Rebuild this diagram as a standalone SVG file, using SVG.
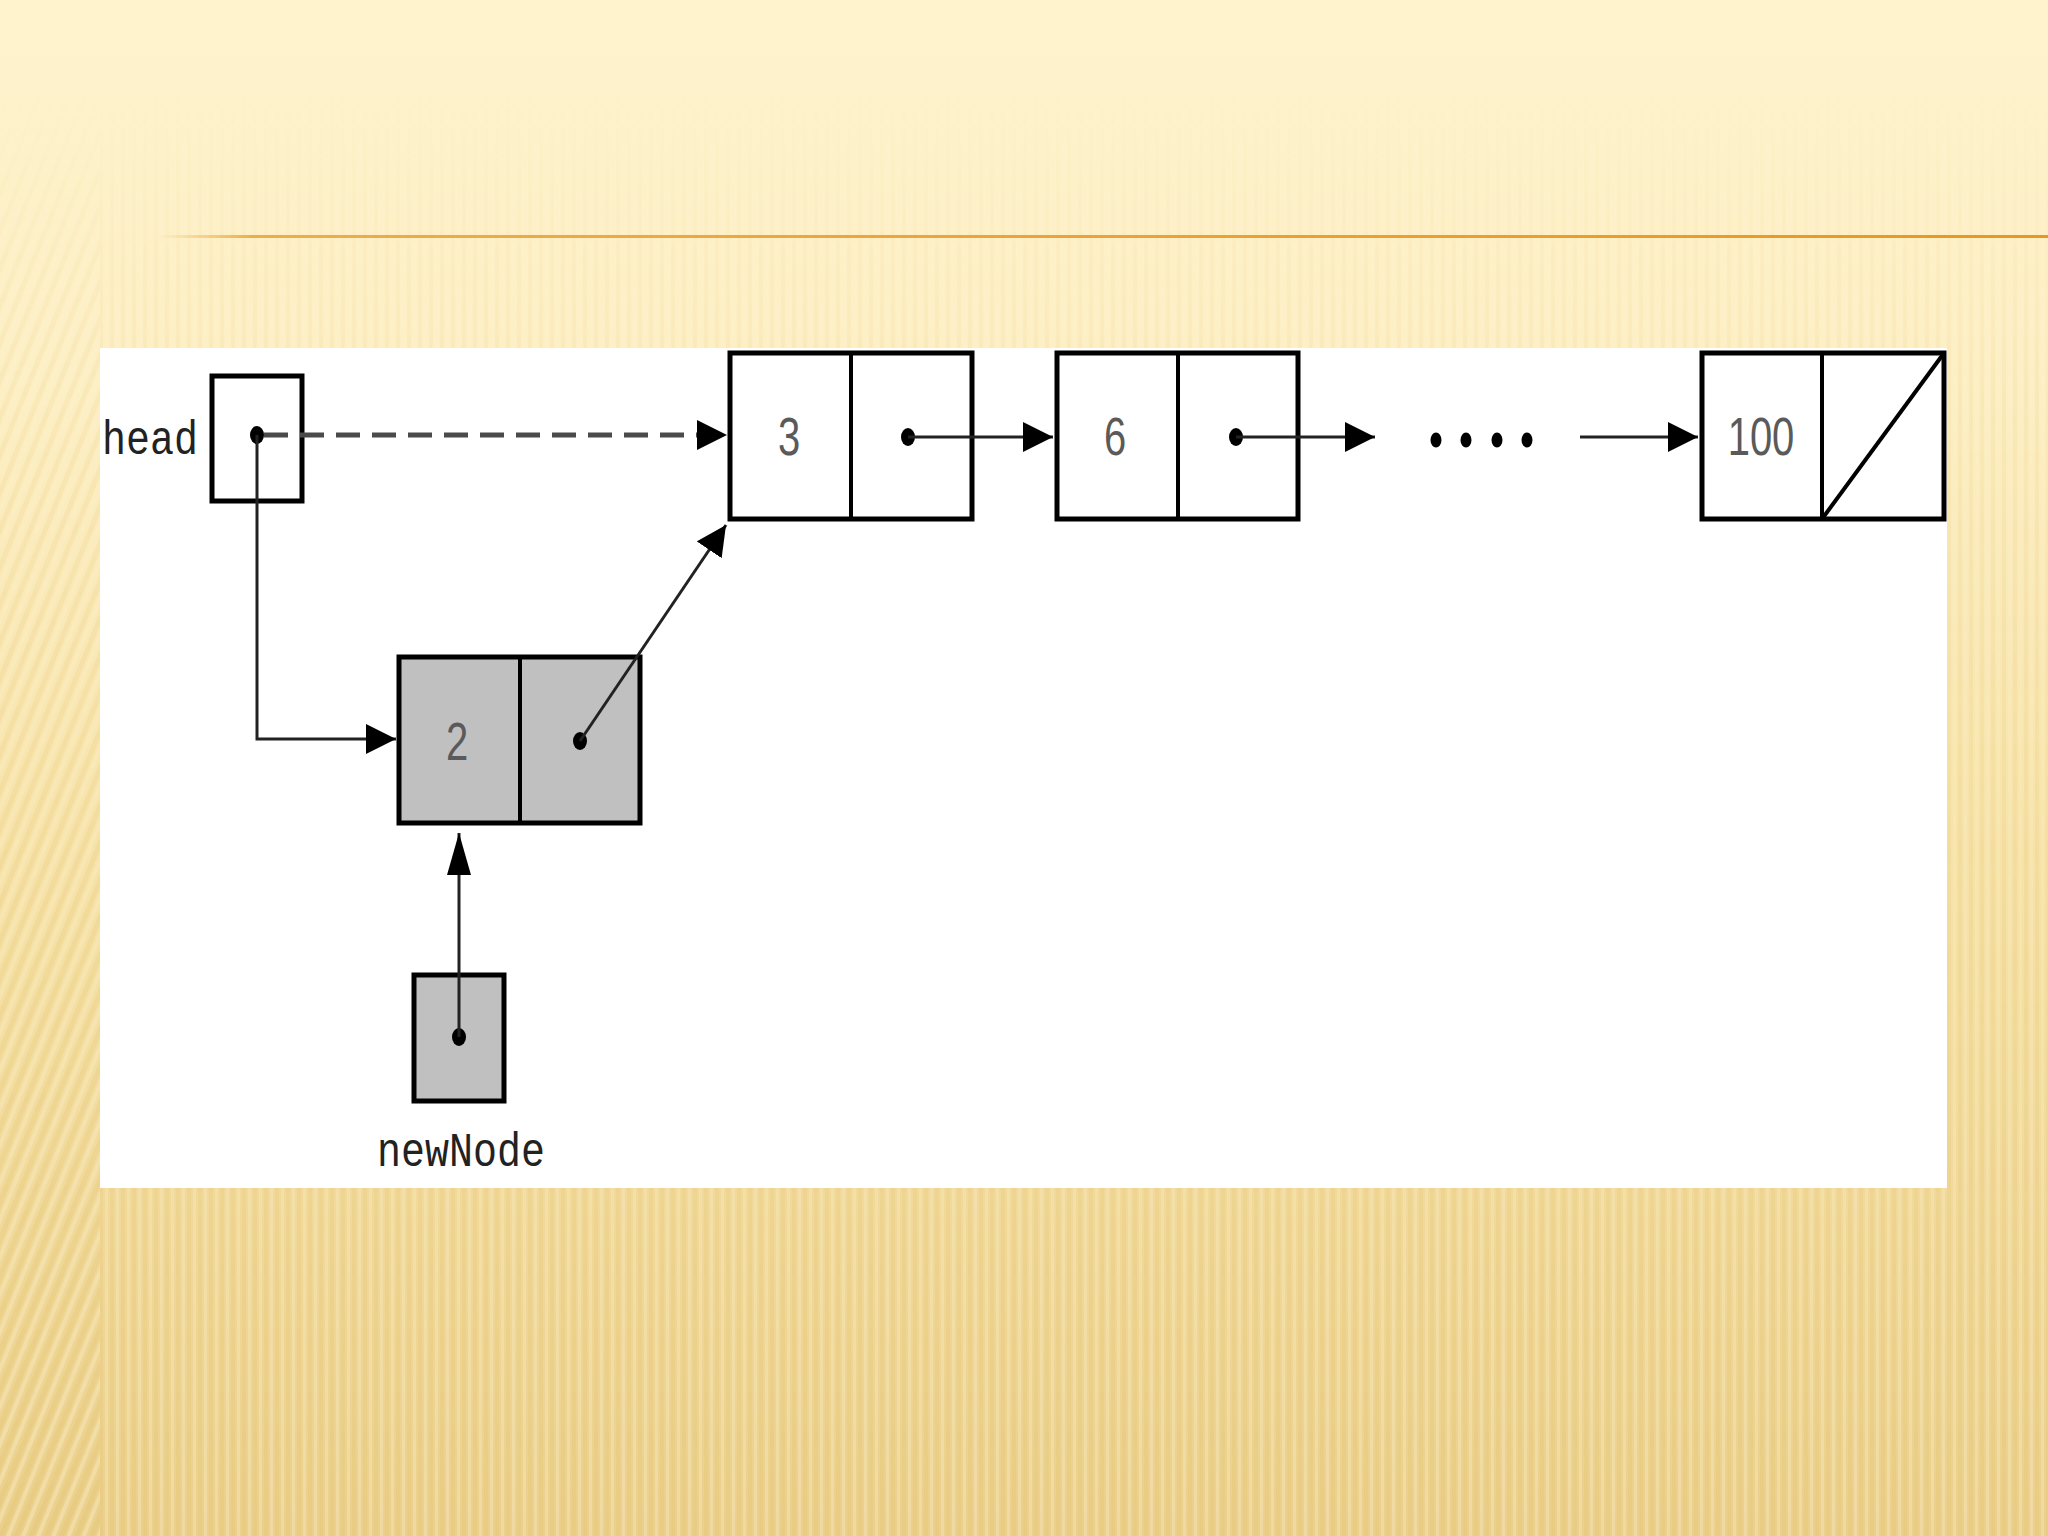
<svg xmlns="http://www.w3.org/2000/svg" width="2048" height="1536" viewBox="0 0 2048 1536">
  <defs>
    <linearGradient id="bg" x1="0" y1="0" x2="0" y2="1">
      <stop offset="0" stop-color="#fef3cd"/>
      <stop offset="0.25" stop-color="#fdefc4"/>
      <stop offset="0.55" stop-color="#f7e3a9"/>
      <stop offset="1" stop-color="#ebd08c"/>
    </linearGradient>
    <linearGradient id="stripeFade" x1="0" y1="0" x2="0" y2="1">
      <stop offset="0" stop-color="#fff" stop-opacity="0"/>
      <stop offset="0.06" stop-color="#fff" stop-opacity="0"/>
      <stop offset="0.25" stop-color="#fff" stop-opacity="0.4"/>
      <stop offset="1" stop-color="#fff" stop-opacity="0.9"/>
    </linearGradient>
    <mask id="fadeMask">
      <rect x="0" y="0" width="2048" height="1536" fill="url(#stripeFade)"/>
    </mask>
    <pattern id="vstripes" x="0" y="0" width="11" height="20" patternUnits="userSpaceOnUse">
      <rect x="0" y="0" width="4" height="20" fill="#e2c06a" fill-opacity="0.28"/>
      <rect x="6" y="0" width="3" height="20" fill="#fff6d8" fill-opacity="0.3"/>
    </pattern>
    <pattern id="dstripes" x="0" y="0" width="14" height="20" patternUnits="userSpaceOnUse" patternTransform="rotate(22)">
      <rect x="0" y="0" width="5" height="20" fill="#e2c06a" fill-opacity="0.3"/>
      <rect x="7" y="0" width="4" height="20" fill="#fff6d8" fill-opacity="0.35"/>
    </pattern>
    <linearGradient id="rule" x1="0" y1="0" x2="1" y2="0">
      <stop offset="0" stop-color="#f0b040" stop-opacity="0"/>
      <stop offset="0.05" stop-color="#eda53a" stop-opacity="0.9"/>
      <stop offset="1" stop-color="#e8981f"/>
    </linearGradient>
    <marker id="arrow" viewBox="0 0 30 30" refX="30" refY="15" markerWidth="30" markerHeight="30" markerUnits="userSpaceOnUse" orient="auto">
      <path d="M0,0 L30,15 L0,30 Z" fill="#000"/>
    </marker>
    <marker id="arrowTall" viewBox="0 0 42 24" refX="42" refY="12" markerWidth="42" markerHeight="24" markerUnits="userSpaceOnUse" orient="auto">
      <path d="M0,0 L42,12 L0,24 Z" fill="#000"/>
    </marker>
  </defs>
  <style>
    .box { fill: #ffffff; stroke: #000; stroke-width: 5; }
    .open { fill: none; stroke: #000; stroke-width: 5; }
    .gbox { fill: #c0c0c0; stroke: #000; stroke-width: 5; }
    .div { stroke: #000; stroke-width: 4; }
    .link { fill: none; stroke: #222; stroke-width: 3; }
    .dash { fill: none; stroke: #4a4a4a; stroke-width: 5; stroke-dasharray: 24 12; }
    .dot { fill: #000; }
    .num { font-family: "Liberation Sans", "Open Sans", sans-serif; font-size: 40px; fill: #5a5a5a; text-anchor: middle; }
    .mono { font-family: "Liberation Mono", "DejaVu Sans Mono", monospace; font-size: 40px; fill: #222; }
  </style>

  <!-- background -->
  <rect x="0" y="0" width="2048" height="1536" fill="url(#bg)"/>
  <g mask="url(#fadeMask)">
    <rect x="100" y="0" width="1948" height="1536" fill="url(#vstripes)"/>
    <rect x="0" y="0" width="100" height="1536" fill="url(#dstripes)"/>
  </g>
  <rect x="157" y="235" width="1891" height="3" fill="url(#rule)"/>

  <!-- white panel -->
  <rect x="100" y="348" width="1847" height="840" fill="#ffffff"/>

  <!-- head pointer -->
  <g id="head">
    <text class="mono" transform="translate(102,454) scale(1,1.22)">head</text>
    <rect class="open" x="212" y="376" width="90" height="125"/>
    <ellipse class="dot" cx="257" cy="435" rx="7" ry="9"/>
  </g>

  <!-- node 3 -->
  <g id="node3">
    <rect class="box" x="730" y="353" width="242" height="166"/>
    <line class="div" x1="851" y1="353" x2="851" y2="519"/>
    <text class="num" transform="translate(789,455) scale(1,1.35)">3</text>
    <ellipse class="dot" cx="908" cy="437" rx="7" ry="9"/>
  </g>

  <!-- node 6 -->
  <g id="node6">
    <rect class="box" x="1057" y="353" width="241" height="166"/>
    <line class="div" x1="1178" y1="353" x2="1178" y2="519"/>
    <text class="num" transform="translate(1115,455) scale(1,1.35)">6</text>
    <ellipse class="dot" cx="1236" cy="437" rx="7" ry="9"/>
  </g>

  <!-- ellipsis -->
  <g id="ellipsis">
    <ellipse class="dot" cx="1436" cy="440" rx="5.5" ry="7.5"/>
    <ellipse class="dot" cx="1466" cy="440" rx="5.5" ry="7.5"/>
    <ellipse class="dot" cx="1497" cy="440" rx="5.5" ry="7.5"/>
    <ellipse class="dot" cx="1527" cy="440" rx="5.5" ry="7.5"/>
  </g>

  <!-- node 100 -->
  <g id="node100">
    <rect class="box" x="1702" y="353" width="242" height="166"/>
    <line class="div" x1="1822" y1="353" x2="1822" y2="519"/>
    <line class="div" x1="1822" y1="519" x2="1944" y2="353"/>
    <text class="num" transform="translate(1761,455) scale(1,1.35)">100</text>
  </g>

  <!-- node 2 (new) -->
  <g id="node2">
    <rect class="gbox" x="399" y="657" width="241" height="166"/>
    <line class="div" x1="520" y1="657" x2="520" y2="823"/>
    <text class="num" transform="translate(457,760) scale(1,1.35)">2</text>
    <ellipse class="dot" cx="580" cy="741" rx="7" ry="9"/>
  </g>

  <!-- newNode pointer -->
  <g id="newNode">
    <rect class="gbox" x="414" y="975" width="90" height="126"/>
    <ellipse class="dot" cx="459" cy="1037" rx="7" ry="9"/>
    <text class="mono" transform="translate(377,1166) scale(1,1.2)">newNode</text>
  </g>

  <!-- connectors -->
  <g id="connectors">
    <line class="dash" x1="264" y1="435" x2="727" y2="435" marker-end="url(#arrow)"/>
    <polyline class="link" points="257,435 257,739 396,739" marker-end="url(#arrow)"/>
    <line class="link" x1="580" y1="741" x2="726" y2="525" marker-end="url(#arrow)"/>
    <line class="link" x1="459" y1="1037" x2="459" y2="833" marker-end="url(#arrowTall)"/>
    <line class="link" x1="908" y1="437" x2="1053" y2="437" marker-end="url(#arrow)"/>
    <line class="link" x1="1236" y1="437" x2="1375" y2="437" marker-end="url(#arrow)"/>
    <line class="link" x1="1580" y1="437" x2="1698" y2="437" marker-end="url(#arrow)"/>
  </g>
</svg>
